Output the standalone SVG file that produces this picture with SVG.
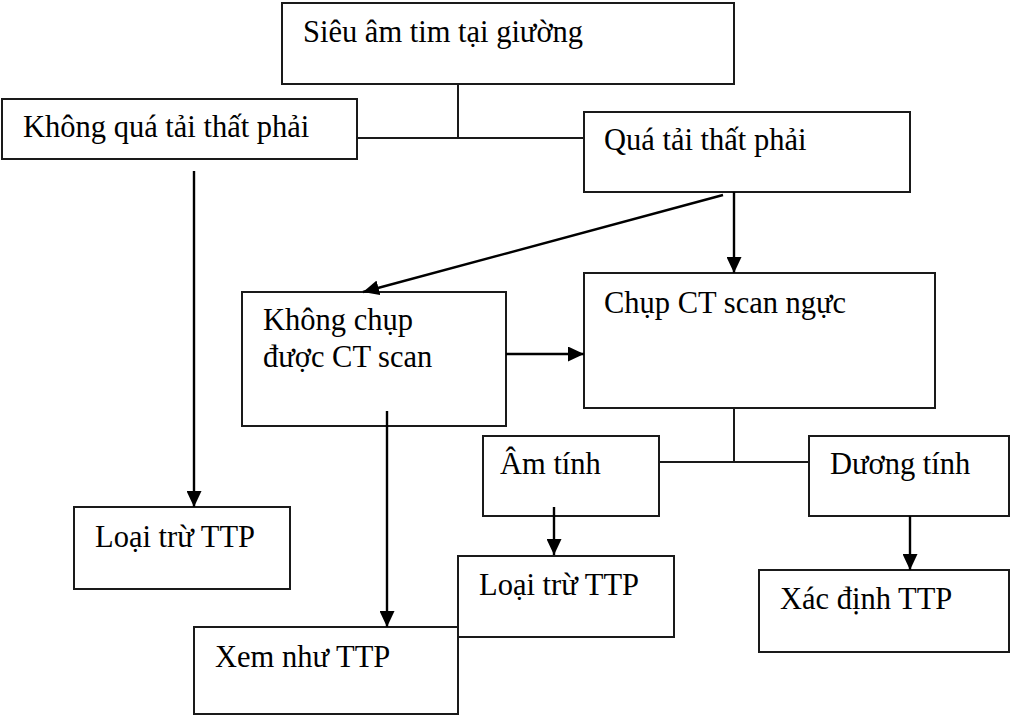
<svg xmlns="http://www.w3.org/2000/svg" width="1010" height="717" viewBox="0 0 1010 717">
<defs>
<style>
.box{fill:#fff;stroke:#1a1a1a;stroke-width:2}
.t{font-family:"Liberation Serif","Times New Roman",serif;font-size:30.5px;fill:#000}
.ln{fill:none;stroke:#1a1a1a;stroke-width:2}
.ar{fill:none;stroke:#000;stroke-width:2.4;marker-end:url(#ah)}
</style>
<marker id="ah" markerWidth="16" markerHeight="15" refX="16" refY="7.5" orient="auto" markerUnits="userSpaceOnUse">
<path d="M0,0 L16,7.5 L0,15 z" fill="#000"/>
</marker>
</defs>
<rect width="1010" height="717" fill="#fff"/>
<g id="n-sieuam">
<rect class="box" x="282" y="3" width="452" height="81"/>
<text class="t" x="303" y="42">Siêu âm tim tại giường</text>
</g>
<g id="n-khongqua">
<rect class="box" x="2" y="99" width="355" height="60"/>
<text class="t" x="23" y="137">Không quá tải thất phải</text>
</g>
<g id="n-quatai">
<rect class="box" x="584" y="112" width="326" height="80"/>
<text class="t" x="604" y="150">Quá tải thất phải</text>
</g>
<g id="n-khongchup">
<rect class="box" x="242" y="292" width="264" height="134"/>
<text class="t" x="263" y="330">Không chụp</text>
<text class="t" x="263" y="367">được CT scan</text>
</g>
<g id="n-chupct">
<rect class="box" x="584" y="273" width="351" height="135"/>
<text class="t" x="604" y="313">Chụp CT scan ngực</text>
</g>
<g id="n-amtinh">
<rect class="box" x="483" y="436" width="176" height="80"/>
<text class="t" x="500" y="474">Âm tính</text>
</g>
<g id="n-duongtinh">
<rect class="box" x="809" y="436" width="200" height="80"/>
<text class="t" x="830" y="474">Dương tính</text>
</g>
<g id="n-loaitru1">
<rect class="box" x="74" y="507" width="216" height="82"/>
<text class="t" x="95" y="547">Loại trừ TTP</text>
</g>
<g id="n-loaitru2">
<rect class="box" x="458" y="556" width="216" height="81"/>
<text class="t" x="479" y="595">Loại trừ TTP</text>
</g>
<g id="n-xacdinh">
<rect class="box" x="759" y="570" width="250" height="82"/>
<text class="t" x="780" y="609">Xác định TTP</text>
</g>
<g id="n-xemnhu">
<rect class="box" x="194" y="627" width="264" height="87"/>
<text class="t" x="215" y="667">Xem như TTP</text>
</g>
<g id="connectors">
<line class="ln" x1="458" y1="84" x2="458" y2="138"/>
<line class="ln" x1="357" y1="138" x2="584" y2="138"/>
<line class="ar" x1="734" y1="192" x2="734" y2="273"/>
<line class="ar" x1="723" y1="195" x2="363" y2="292"/>
<line class="ar" x1="506" y1="354" x2="584" y2="354"/>
<line class="ar" x1="194" y1="171" x2="194" y2="507"/>
<line class="ar" x1="387" y1="411" x2="387" y2="627"/>
<line class="ln" x1="734" y1="408" x2="734" y2="462"/>
<line class="ln" x1="659" y1="462" x2="809" y2="462"/>
<line class="ar" x1="554" y1="507" x2="554" y2="555"/>
<line class="ar" x1="910" y1="516" x2="910" y2="570"/>
</g>
</svg>
